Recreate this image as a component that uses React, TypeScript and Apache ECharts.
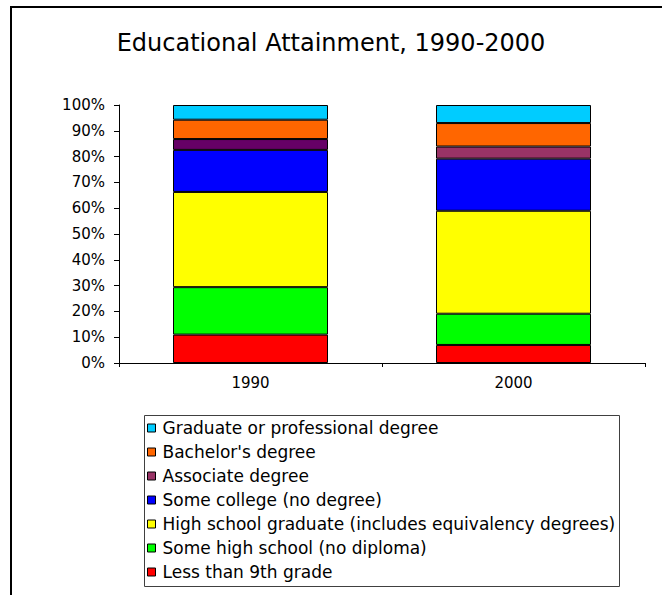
import React, { useEffect, useRef } from "react";
import * as echarts from "echarts";

const years = ["1990", "2000"];
const seriesNames = [
  "Less than 9th grade",
  "Some high school (no diploma)",
  "High school graduate (includes equivalency degrees)",
  "Some college (no degree)",
  "Associate degree",
  "Bachelor's degree",
  "Graduate or professional degree",
];
const lessThan9th = [11.0, 7.0];
const someHighSchool = [18.4, 12.1];
const highSchoolGrad = [36.9, 39.9];
const someCollege = [16.3, 20.2];
const associate = [4.2, 4.7];
const bachelor = [7.5, 9.1];
const graduate = [5.7, 7.0];
const yTicks = [0, 10, 20, 30, 40, 50, 60, 70, 80, 90, 100];

const colors = ["#ff0000", "#00ff00", "#ffff00", "#0000ff", "#993366", "#ff6600", "#00ccff"];
const associate1990Color = "#660066";

export default function App() {
  const ref = useRef<HTMLDivElement>(null);
  useEffect(() => {
    if (!ref.current) return;
    const chart = echarts.init(ref.current, undefined, { renderer: "svg" });
    const values = [lessThan9th, someHighSchool, highSchoolGrad, someCollege, associate, bachelor, graduate];
    const font = "DejaVu Sans, Verdana, sans-serif";
    const series = values.map((arr, i) => ({
      name: seriesNames[i],
      type: "bar",
      stack: "total",
      barWidth: 155,
      data: arr.map((v, j) => ({
        value: v,
        itemStyle: i === 4 && j === 0 ? { color: associate1990Color } : undefined,
      })),
      itemStyle: { color: colors[i], borderColor: "#000", borderWidth: 1 },
      emphasis: { disabled: true },
    }));
    chart.setOption({
      animation: false,
      backgroundColor: "#ffffff",
      title: {
        text: "Educational Attainment, 1990-2000",
        left: "center",
        top: 31,
        padding: 0,
        textStyle: { fontFamily: font, fontSize: 24, fontWeight: "normal", color: "#000" },
      },
      grid: { left: 119, right: 17, top: 105, bottom: 232 },
      xAxis: {
        type: "category",
        data: years,
        axisLine: { lineStyle: { color: "#000", width: 1 } },
        axisTick: { show: true, length: 4, lineStyle: { color: "#000" } },
        axisLabel: { fontFamily: font, fontSize: 15, color: "#000", margin: 12 },
      },
      yAxis: {
        type: "value",
        min: 0,
        max: 100,
        interval: 10,
        axisLine: { show: true, lineStyle: { color: "#000", width: 1 } },
        axisTick: { show: true, length: 5, lineStyle: { color: "#000" } },
        splitLine: { show: false },
        axisLabel: {
          fontFamily: font,
          fontSize: 15,
          color: "#000",
          margin: 14,
          formatter: (v: number) => (yTicks.includes(v) ? v + "%" : ""),
        },
      },
      legend: {
        orient: "vertical",
        left: 147,
        top: 419,
        padding: 0,
        data: [...seriesNames].reverse(),
        icon: "rect",
        itemWidth: 8,
        itemHeight: 8,
        itemGap: 6,
        selectedMode: false,
        itemStyle: { borderColor: "#000", borderWidth: 1 },
        textStyle: { fontFamily: font, fontSize: 17, color: "#000", lineHeight: 18, padding: [0, 0, 0, 2] },
      },
      graphic: [
        {
          type: "rect",
          shape: { x: 144.5, y: 415.5, width: 475, height: 171 },
          style: { fill: "none", stroke: "#404040", lineWidth: 1 },
          z: 10,
        },
        {
          type: "polyline",
          shape: { points: [[11, 595], [11, 7], [662, 7]] },
          style: { fill: "none", stroke: "#000", lineWidth: 2 },
          z: 10,
        },
      ],
      series,
    });
    return () => chart.dispose();
  }, []);
  return (
    <div
      ref={ref}
      style={{ width: 662, height: 595, position: "absolute", left: 0, top: 0 }}
    />
  );
}
